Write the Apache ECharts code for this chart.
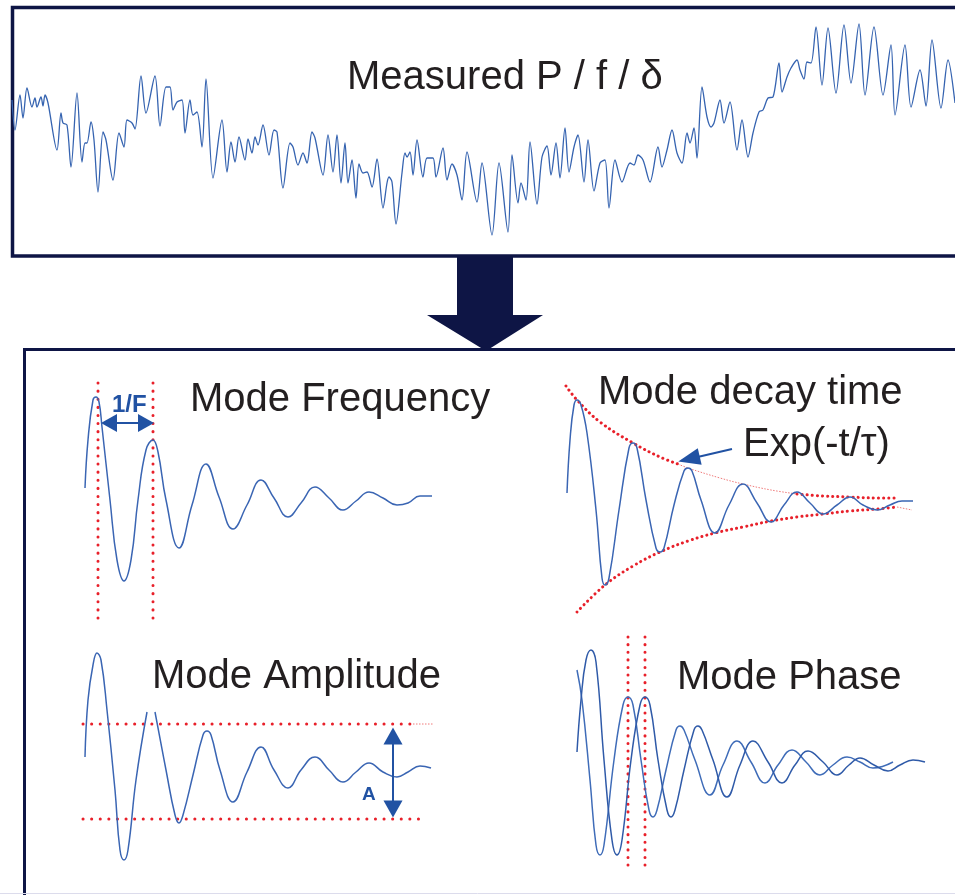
<!DOCTYPE html>
<html><head><meta charset="utf-8">
<script src="https://cdn.jsdelivr.net/npm/echarts@6/dist/echarts.min.js"></script>
<style>html,body{margin:0;padding:0;background:#fff}#c{width:955px;height:895px}</style>
</head><body><div id="c"></div><script>
// ---- Data (time sample, amplitude) ----
var measuredSignal = [[0,50],[3,20],[8,55],[11,32],[15,62],[20,43],[23,52],[25,43],[29,53],[31,44],[33,55],[36,47],[45,0],[49,37],[51,27],[55,25],[59,-17],[65,57],[70,-12],[73,7],[75,7],[79,28],[82,10],[86,-42],[91,18],[94,10],[101,-30],[107,17],[112,3],[115,30],[120,27],[123,21],[129,74],[134,37],[143,74],[148,24],[154,63],[158,63],[161,40],[165,48],[170,50],[173,17],[178,50],[181,35],[185,38],[190,3],[194,71],[201,-28],[210,30],[215,-22],[219,8],[223,-12],[227,13],[233,-10],[236,11],[240,-3],[243,13],[246,5],[251,25],[257,-5],[262,20],[265,18],[271,-38],[278,7],[281,3],[286,-15],[291,-3],[295,-13],[300,18],[303,12],[311,-25],[316,15],[321,-22],[325,15],[329,-33],[333,7],[336,-33],[340,-10],[344,-48],[347,-14],[351,-23],[355,-22],[360,-37],[365,-9],[371,-58],[375,-33],[377,-27],[380,-32],[384,-74],[390,-23],[393,-3],[395,-7],[398,-2],[401,-25],[405,10],[411,-27],[415,-8],[421,-8],[424,-27],[431,2],[435,-30],[440,-14],[445,-25],[450,-50],[455,-2],[465,-52],[470,-13],[480,-85],[487,-13],[496,-82],[500,-5],[506,-53],[509,-33],[514,-50],[518,8],[525,-54],[530,-7],[535,4],[539,-25],[544,7],[548,-28],[553,22],[557,-22],[562,3],[566,15],[572,-32],[576,10],[582,-41],[588,-13],[593,-10],[597,-58],[603,-10],[610,-32],[618,-13],[622,-15],[626,-5],[631,-10],[638,-32],[646,3],[650,-17],[655,0],[660,20],[665,-3],[670,-13],[675,17],[678,7],[682,22],[685,-8],[690,63],[695,33],[699,23],[702,27],[708,50],[712,27],[718,48],[725,0],[730,30],[736,-7],[741,17],[747,38],[751,40],[756,52],[761,53],[767,87],[770,58],[775,73],[779,82],[785,90],[788,80],[792,71],[795,88],[799,87],[804,123],[810,65],[816,122],[824,57],[832,125],[839,67],[847,126],[853,55],[862,123],[871,55],[879,105],[883,35],[893,105],[899,43],[908,80],[914,44],[920,110],[929,42],[936,90],[943,47]];

var freqSignal = [[0,12],[3,60],[8,100],[11,103],[14,98],[17,73],[25,0],[32,-60],[39,-81],[46,-60],[53,0],[61,50],[68,60],[73,48],[81,0],[94,-48],[107,-5],[121,36],[134,3],[148,-29],[162,-5],[176,20],[189,2],[203,-17],[216,-3],[230,13],[244,2],[258,-10],[271,-1],[284,8],[298,2],[312,-5],[323,-3],[335,4],[347,4]];
var freqMarkerA = [[13,117],[13,-120]];
var freqMarkerB = [[68,117],[68,-120]];
var freqArrow = [[24,77],[61,77]];

var decaySignal = [[1,7],[4,60],[8,95],[11,100],[15,95],[21,67],[30,-10],[36,-78],[39,-85],[43,-78],[53,-10],[63,52],[67,57],[71,52],[80,0],[90,-48],[94,-52],[98,-48],[108,-5],[118,29],[122,32],[126,29],[135,0],[149,-33],[163,-5],[177,16],[191,-3],[205,-22],[218,-5],[231,8],[244,-3],[257,-14],[271,-5],[284,3],[297,-5],[311,-10],[324,-5],[336,-1],[347,-1]];
var decayUpperA = [[0,114],[11,100],[34,78],[67,57],[94,43],[112,36]];
var decayUpperThin = [[112,36],[122,32],[154,22],[177,16],[205,10],[231,6]];
var decayUpperB = [[231,6],[257,4],[284,3],[311,2],[331,2]];
var decayLower = [[11,-112],[39,-85],[67,-66],[94,-52],[122,-41],[149,-33],[177,-27],[205,-21],[231,-17],[257,-14],[284,-11],[311,-9],[331,-7]];
var decayLowerThin = [[331,-7],[346,-10]];
var decayArrow = [[166,51],[123,41]];

var ampSignal = [[0,13],[3,70],[8,105],[12,117],[16,110],[22,60],[30,-20],[35,-80],[39,-90],[43,-80],[51,-10],[62,58],null,[70,58],[81,0],[90,-45],[94,-53],[98,-45],[108,-5],[118,35],[122,39],[126,35],[135,0],[148,-32],[162,-2],[176,23],[189,0],[203,-18],[216,0],[230,13],[244,0],[258,-12],[271,-2],[284,7],[298,-2],[312,-7],[323,-2],[335,4],[346,2]];
var ampUpperLine = [[-2,46],[328,46]];
var ampUpperThin = [[328,46],[348,46]];
var ampLowerLine = [[-2,-49],[342,-49]];
var ampArrow = [[308,34],[308,-39]];

var phaseLead = [[0,90],[5,60],[13,-20],[19,-85],[23,-95],[27,-85],[37,0],[46,55],[51,63],[56,55],[64,0],[72,-50],[76,-57],[80,-50],[89,-10],[99,30],[103,34],[107,30],[118,0],[133,-35],[146,-5],[160,19],[174,-2],[188,-23],[201,-5],[215,10],[229,-2],[243,-15],[256,-5],[270,3],[283,-2],[296,-8],[316,-2]];
var phaseLag = [[0,8],[4,60],[9,100],[14,110],[19,98],[27,0],[35,-80],[40,-95],[45,-80],[54,0],[63,55],[68,63],[73,55],[81,0],[90,-50],[94,-57],[98,-50],[107,-10],[117,30],[121,34],[125,30],[136,0],[150,-37],[163,-5],[176,19],[191,-2],[205,-23],[218,-5],[231,9],[246,-2],[260,-15],[272,-5],[283,2],[297,-5],[311,-11],[323,-5],[336,0],[348,-2]];
var phaseMarkerA = [[51,123],[51,-112]];
var phaseMarkerB = [[68,123],[68,-112]];

var titles = ['Measured P / f / \u03b4','Mode Frequency','Mode decay time','Exp(-t/\u03c4)','Mode Amplitude','Mode Phase'];
var annotationLabels = ['1/F','A'];

// ---- Chart ----
var chart = echarts.init(document.getElementById('c'), null, {renderer:'canvas'});
var BLUE = '#3a65b3', RED = '#e8202a', NAVY = '#0e1545', ARROW_BLUE = '#2152a3';
var grids = [
  {left:12, top:20, width:943, height:220},
  {left:85, top:380, width:360, height:240},
  {left:566, top:380, width:350, height:240},
  {left:80, top:650, width:360, height:240},
  {left:577, top:635, width:350, height:250}
];
var ranges = [
  {x:[0,943], y:[-90,130]},
  {x:[0,360], y:[-120,120]},
  {x:[0,350], y:[-120,120]},
  {x:[-5,355], y:[-120,120]},
  {x:[0,350], y:[-125,125]}
];
var xAxes = ranges.map(function(r,i){return {type:'value',gridIndex:i,min:r.x[0],max:r.x[1],show:false,splitLine:{show:false}};});
var yAxes = ranges.map(function(r,i){return {type:'value',gridIndex:i,min:r.y[0],max:r.y[1],show:false,splitLine:{show:false}};});

function sig(g, data, smooth, color, width){
  return {type:'line', xAxisIndex:g, yAxisIndex:g, data:data, showSymbol:false, symbol:'none', smooth:smooth, silent:true,
    connectNulls:false, lineStyle:{color:color||BLUE, width:width||1.5}, z:3};
}
function dots(g, data, gap, smooth){
  return {type:'line', xAxisIndex:g, yAxisIndex:g, data:data, symbol:'none', smooth:smooth||false, silent:true,
    lineStyle:{color:RED, width:3, type:[0.1, gap||8], cap:'round'}, z:2};
}
function thin(g, data, smooth){
  return {type:'line', xAxisIndex:g, yAxisIndex:g, data:data, symbol:'none', smooth:smooth||false, silent:true,
    lineStyle:{color:'#f07a7a', width:1, type:[1.5,1.5]}, z:2};
}
function arrow(g, pts, both, size){
  return {type:'line', xAxisIndex:g, yAxisIndex:g, data:[], symbol:'none', silent:true,
    markLine:{silent:true, symbol: both?['triangle','triangle']:['none','triangle'], symbolSize:size,
      label:{show:false}, lineStyle:{color:ARROW_BLUE, width:2, type:'solid'},
      itemStyle:{color:ARROW_BLUE}, emphasis:{disabled:true}, animation:false,
      data:[[{coord:pts[0]},{coord:pts[1]}]]}, z:4};
}

var series = [
  sig(0, measuredSignal, 0.3, '#3563b0', 1.3),
  sig(1, freqSignal, 0.45),
  dots(1, freqMarkerA), dots(1, freqMarkerB),
  arrow(1, freqArrow, true, [18,16]),
  sig(2, decaySignal, 0.45),
  dots(2, decayUpperA, 5, 0.4), thin(2, decayUpperThin, 0.4), dots(2, decayUpperB, 5, 0.4),
  dots(2, decayLower, 5, 0.4), thin(2, decayLowerThin),
  arrow(2, decayArrow, false, [17,22]),
  sig(3, ampSignal, 0.45),
  dots(3, ampUpperLine, 8.5), thin(3, ampUpperThin), dots(3, ampLowerLine, 8.5),
  arrow(3, ampArrow, true, [19,17]),
  sig(4, phaseLead, 0.45, '#3f6cb8'),
  sig(4, phaseLag, 0.45, '#2f5aa8'),
  dots(4, phaseMarkerA, 7.5), dots(4, phaseMarkerB, 7.5)
];

var FONT = '40px "Liberation Sans", Arial, sans-serif';
var TXT = '#231f20';
function txt(s, x, y, font, color){
  return {type:'text', x:x, y:y, z:10, style:{text:s, font:font||FONT, fill:color||TXT, textAlign:'left'}};
}
var graphic = [
  {type:'rect', shape:{x:12.5, y:7.5, width:970, height:248.5}, style:{fill:'none', stroke:NAVY, lineWidth:3.5}, z:1},
  {type:'rect', shape:{x:24.5, y:349.5, width:960, height:570}, style:{fill:'none', stroke:NAVY, lineWidth:3}, z:1},
  {type:'polygon', shape:{points:[[457,255],[513,255],[513,315],[543,315],[486,351],[427,315],[457,315]]}, style:{fill:NAVY}, z:5},
  {type:'line', shape:{x1:0,y1:893.5,x2:955,y2:893.5}, style:{stroke:'#dcdcec', lineWidth:1}, z:1},
  txt(titles[0], 347, 58),
  txt(titles[1], 190, 380),
  txt(titles[2], 598, 373),
  txt(titles[3], 743, 425),
  txt(titles[4], 152, 657),
  txt(titles[5], 677, 658),
  txt(annotationLabels[0], 112, 393, 'bold 24px "Liberation Sans", Arial, sans-serif', ARROW_BLUE),
  txt(annotationLabels[1], 362, 785, 'bold 19px "Liberation Sans", Arial, sans-serif', ARROW_BLUE)
];

chart.setOption({
  animation:false,
  backgroundColor:'#ffffff',
  grid:grids, xAxis:xAxes, yAxis:yAxes,
  series:series,
  graphic:graphic
});
</script></body></html>
